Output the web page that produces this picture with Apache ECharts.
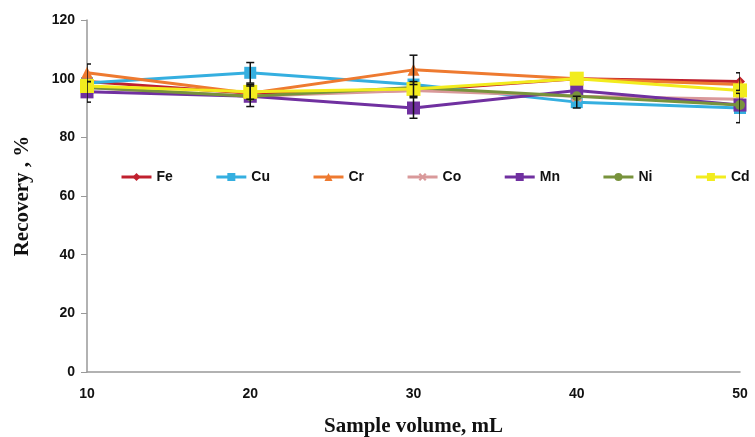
<!DOCTYPE html>
<html>
<head>
<meta charset="utf-8">
<script src="https://cdn.jsdelivr.net/npm/echarts@6/dist/echarts.min.js"></script>
<style>
  html, body { margin: 0; padding: 0; background: #fff; }
  #chart { width: 755px; height: 437px; }
</style>
</head>
<body>
<div id="chart"></div>
<script>
// sample volume (mL)
var volumes = [10, 20, 30, 40, 50]
var yTicks = [0, 20, 40, 60, 80, 100, 120]

// recovery (%) per element
var fe = [99, 95, 96, 100, 99]
var cu = [98.5, 102, 98, 92, 90]
var cr = [102, 95, 103, 100, 98]
var co = [97, 94, 96, 94, 93]
var mn = [95.5, 94, 90, 96, 91]
var ni = [97, 94, 97, 94, 91]
var cd = [97.5, 95.5, 96.5, 100, 96]

// standard deviations (0 = no bar drawn)
var feErr = [0, 0, 0, 0, 3]
var cuErr = [0, 3.5, 0, 2, 5]
var crErr = [3, 0, 5, 0, 0]
var coErr = [0, 0, 0, 0, 0]
var mnErr = [3.5, 3.5, 3.5, 0, 0]
var niErr = [0, 0, 0, 0, 0]
var cdErr = [0, 2.5, 2.5, 0, 0]

var names = ['Fe', 'Cu', 'Cr', 'Co', 'Mn', 'Ni', 'Cd']
var values = [fe, cu, cr, co, mn, ni, cd]
var errors = [feErr, cuErr, crErr, coErr, mnErr, niErr, cdErr]

var colors = ['#C0202E', '#35AFE0', '#EE7A30', '#D9999A', '#7030A0', '#78933C', '#F2EC1E']
var symbols = [
  'diamond',
  'rect',
  'triangle',
  'path://M0,2 L2,0 L5,3 L8,0 L10,2 L7,5 L10,8 L8,10 L5,7 L2,10 L0,8 L3,5 Z',
  'rect',
  'circle',
  'rect'
]
var symbolSizes = [10, 12, 12, 12, 13, 10, 14]

var chart = echarts.init(document.getElementById('chart'))

var series = []
names.forEach(function (name, i) {
  series.push({
    name: name,
    type: 'line',
    data: volumes.map(function (v, k) { return [v, values[i][k]] }),
    symbol: symbols[i],
    symbolSize: symbolSizes[i],
    showAllSymbol: true,
    lineStyle: { width: 3, color: colors[i] },
    itemStyle: { color: colors[i], borderWidth: 0 },
    z: 2 + i
  })
})

// error bars, one custom series
var errData = []
names.forEach(function (name, i) {
  volumes.forEach(function (v, k) {
    if (errors[i][k] > 0) {
      errData.push([v, values[i][k] - errors[i][k], values[i][k] + errors[i][k]])
    }
  })
})
series.push({
  type: 'custom',
  name: 'err',
  data: errData,
  z: 20,
  clip: true,
  silent: true,
  renderItem: function (params, api) {
    var lo = api.coord([api.value(0), api.value(1)])
    var hi = api.coord([api.value(0), api.value(2)])
    var w = 4
    var st = { stroke: '#111', lineWidth: 1.5 }
    return {
      type: 'group',
      children: [
        { type: 'line', shape: { x1: lo[0], y1: lo[1], x2: hi[0], y2: hi[1] }, style: st },
        { type: 'line', shape: { x1: lo[0] - w, y1: lo[1], x2: lo[0] + w, y2: lo[1] }, style: st },
        { type: 'line', shape: { x1: hi[0] - w, y1: hi[1], x2: hi[0] + w, y2: hi[1] }, style: st }
      ]
    }
  }
})

var option = {
  backgroundColor: '#fff',
  animation: false,
  grid: { left: 87, right: 15, top: 20, bottom: 65, outerBoundsMode: 'none' },
  legend: {
    data: names,
    left: 115,
    top: 165,
    width: 660,
    itemGap: 42,
    itemWidth: 30,
    itemHeight: 10,
    lineStyle: { width: 3 },
    textStyle: { fontFamily: 'Liberation Sans, Arial', fontWeight: 'bold', fontSize: 14, color: '#111' }
  },
  xAxis: {
    type: 'value',
    min: volumes[0],
    max: volumes[volumes.length - 1],
    interval: 10,
    name: 'Sample volume, mL',
    nameLocation: 'middle',
    nameGap: 44,
    nameTextStyle: { fontFamily: 'Liberation Serif, Times New Roman', fontWeight: 'bold', fontSize: 21, color: '#111' },
    axisLine: { lineStyle: { color: '#999', width: 1.5 } },
    axisTick: { show: false },
    splitLine: { show: false },
    axisLabel: { margin: 15, fontFamily: 'Liberation Sans, Arial', fontWeight: 'bold', fontSize: 14, color: '#111' }
  },
  yAxis: {
    type: 'value',
    min: yTicks[0],
    max: yTicks[yTicks.length - 1],
    interval: 20,
    name: 'Recovery , %',
    nameLocation: 'middle',
    nameGap: 54,
    nameTextStyle: { fontFamily: 'Liberation Serif, Times New Roman', fontWeight: 'bold', fontSize: 21, color: '#111' },
    axisLine: { show: true, lineStyle: { color: '#999', width: 1.5 } },
    axisTick: { show: true, length: 6, lineStyle: { color: '#999' } },
    splitLine: { show: false },
    axisLabel: { margin: 12, fontFamily: 'Liberation Sans, Arial', fontWeight: 'bold', fontSize: 14, color: '#111' }
  },
  series: series
}

chart.setOption(option)
</script>
</body>
</html>
